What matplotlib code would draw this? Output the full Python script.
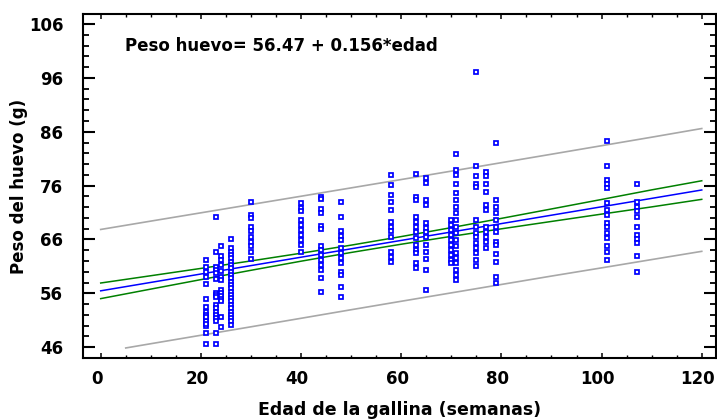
import numpy as np
import matplotlib
matplotlib.use('Agg')
import matplotlib.pyplot as plt
import matplotlib.transforms as mtransforms
from matplotlib.ticker import FixedLocator, MultipleLocator

# edad de la gallina (semanas) de cada grupo y pesos de huevo (g) leidos
edades = [21, 23, 24, 26, 30, 40, 44, 48, 58, 63, 65, 70, 71, 75, 77, 79, 101, 107]
pesos = [
    [62.1, 60.8, 60.0, 59.1, 57.7, 54.9, 53.4, 52.6, 52.0, 51.4, 50.8, 50.0, 48.7, 46.6, 51.7, 50.4],
    [70.1, 63.6, 60.8, 60.3, 59.7, 58.6, 56.0, 55.7, 55.4, 53.9, 53.2, 52.6, 52.0, 51.4, 50.8, 48.7, 46.6],
    [64.7, 62.9, 62.2, 61.3, 60.2, 59.1, 58.5, 56.6, 56.1, 55.5, 55.0, 54.5, 51.7, 49.8],
    [66.1, 64.4, 63.7, 63.1, 62.5, 61.9, 61.3, 60.7, 60.0, 59.4, 58.8, 58.2, 57.6, 57.0,
     56.3, 55.7, 55.1, 54.5, 53.9, 53.2, 52.6, 52.0, 51.4, 50.8, 50.1],
    [73.0, 70.6, 69.9, 68.4, 67.5, 66.5, 65.6, 64.7, 63.7, 62.4],
    [72.7, 71.8, 71.2, 69.6, 68.7, 67.8, 66.8, 65.9, 65.0, 63.6],
    [73.9, 73.5, 71.6, 70.9, 68.5, 67.9, 64.7, 64.1, 63.1, 62.2, 61.3, 60.3, 58.9, 56.3],
    [73.0, 70.1, 67.5, 66.7, 65.9, 64.4, 63.5, 62.6, 61.6, 60.0, 59.4, 57.1, 55.3],
    [78.0, 76.1, 74.3, 73.0, 71.5, 69.3, 68.4, 67.5, 66.5, 63.7, 62.8, 61.9],
    [78.1, 73.9, 73.3, 70.2, 69.3, 68.3, 67.4, 66.2, 65.0, 64.1, 63.4, 61.6, 60.7],
    [77.4, 76.5, 73.3, 72.4, 69.0, 68.1, 67.4, 66.5, 65.0, 63.6, 62.3, 60.3, 56.6],
    [69.6, 68.7, 67.8, 66.8, 65.9, 65.0, 64.1, 63.1, 62.2, 61.6],
    [81.8, 78.9, 78.0, 76.3, 74.6, 73.3, 72.1, 70.9, 69.6, 68.4, 67.2, 65.9, 64.7, 63.4,
     62.6, 61.6, 60.3, 59.4, 58.5],
    [97.0, 79.6, 77.8, 76.3, 75.8, 69.6, 68.4, 67.2, 66.5, 65.4, 64.4, 63.4, 62.2, 61.0],
    [78.6, 77.8, 76.3, 74.9, 72.4, 71.5, 68.4, 67.4, 66.5, 65.5, 64.4],
    [84.0, 73.3, 72.1, 70.9, 69.6, 68.4, 67.3, 65.6, 65.0, 63.3, 61.8, 59.0, 58.0],
    [84.3, 79.6, 77.0, 76.3, 75.5, 72.7, 71.5, 70.6, 69.0, 68.4, 67.2, 66.2, 64.7, 63.7, 62.2],
    [76.3, 73.0, 72.1, 71.2, 70.2, 68.4, 66.8, 66.1, 65.3, 62.9, 60.0],
]

# recta ajustada y bandas (confianza / prediccion)
x_banda = [0, 10, 20, 30, 40, 50, 60, 70, 80, 90, 100, 110, 120]
ajuste = [56.47, 58.03, 59.59, 61.15, 62.71, 64.27, 65.83, 67.39, 68.95, 70.51, 72.07, 73.63, 75.19]
conf_sup = [57.92, 59.27, 60.63, 62.02, 63.45, 64.95, 66.54, 68.20, 69.92, 71.67, 73.43, 75.21, 76.9]
conf_inf = [55.02, 56.79, 58.55, 60.28, 61.97, 63.59, 65.12, 66.58, 67.98, 69.35, 70.71, 72.05, 73.45]
pred_sup = [67.86, 69.41, 70.95, 72.49, 74.03, 75.58, 77.13, 78.69, 80.26, 81.83, 83.41, 84.99, 86.6]
x_pred_inf = [5, 10, 20, 30, 40, 50, 60, 70, 80, 90, 100, 110, 120]
pred_inf = [45.86, 46.65, 48.22, 49.79, 51.37, 52.96, 54.53, 56.09, 57.65, 59.21, 60.73, 62.27, 63.8]

plt.rcParams['font.family'] = 'DejaVu Sans'
plt.rcParams['font.weight'] = 'bold'

fig = plt.figure(figsize=(7.17, 4.19), dpi=100)
ax = fig.add_axes([0.1153, 0.1456, 0.8837, 0.821])

ax.plot(x_banda, pred_sup, color='#a8a8a8', lw=1.2, zorder=2)
ax.plot(x_pred_inf, pred_inf, color='#a8a8a8', lw=1.2, zorder=2)
ax.plot(x_banda, conf_sup, color='#008000', lw=1.1, zorder=2)
ax.plot(x_banda, conf_inf, color='#008000', lw=1.1, zorder=2)
ax.plot(x_banda, ajuste, color='#0000ff', lw=1.1, zorder=2)

xs = np.concatenate([[e] * len(p) for e, p in zip(edades, pesos)])
ys = np.concatenate(pesos)
ax.plot(xs, ys, ls='none', marker='s', ms=3.5, mfc='white', mec='#0000ff', mew=1.25, zorder=3)

ax.text(4.8, 102.0, 'Peso huevo= 56.47 + 0.156*edad', fontsize=12, fontweight='bold', va='center', ha='left')

ax.set_xlim(-3.6, 122.9)
ax.set_ylim(44.0, 107.86)
ax.xaxis.set_major_locator(MultipleLocator(20))
ax.xaxis.set_minor_locator(MultipleLocator(5))
ax.yaxis.set_major_locator(FixedLocator(np.arange(46, 107, 10)))
ax.yaxis.set_minor_locator(FixedLocator(np.arange(44, 108, 2)))

ax.tick_params(which='both', direction='in', top=True, right=True, labelsize=12)
ax.tick_params(axis='x', which='major', length=3.6, width=1.1, pad=9)
ax.tick_params(axis='x', which='minor', length=2.2, width=1.0)
ax.tick_params(axis='y', which='major', length=8.5, width=1.5, pad=14)
ax.tick_params(axis='y', which='minor', length=4.3, width=1.3)
for lbl in ax.get_xticklabels() + ax.get_yticklabels():
    lbl.set_fontweight('bold')
for s in ax.spines.values():
    s.set_linewidth(1.5)

# las etiquetas del eje x van un poco a la izquierda de su marca
desplaza = mtransforms.ScaledTranslation(-4 / 100, 0, fig.dpi_scale_trans)
for t in ax.xaxis.get_major_ticks():
    t.label1.set_transform(t.label1.get_transform() + desplaza)

ax.set_xlabel('Edad de la gallina (semanas)', fontsize=12.5, fontweight='bold', labelpad=9)
ax.set_ylabel('Peso del huevo (g)', fontsize=12, fontweight='bold', labelpad=0.5)

fig.savefig('out.png', dpi=100)
